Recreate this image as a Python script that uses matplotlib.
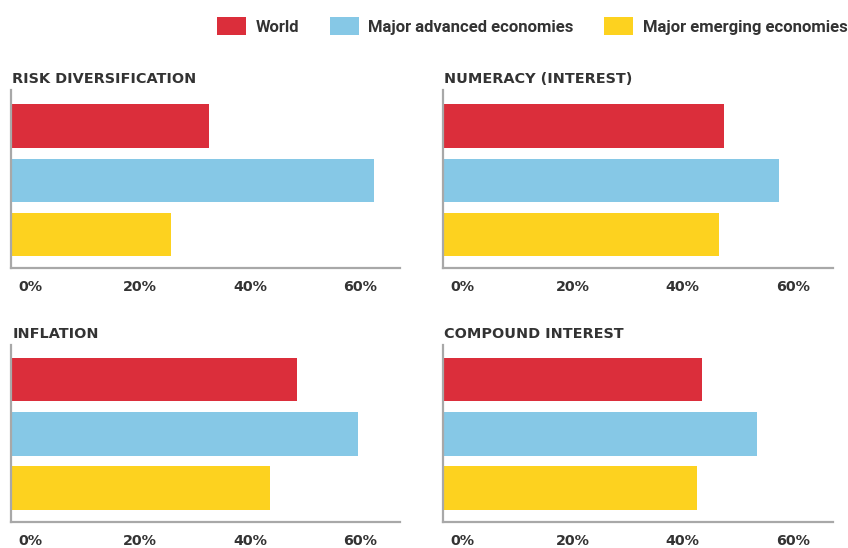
import matplotlib
matplotlib.use("Agg")
import matplotlib.pyplot as plt
import matplotlib.transforms as mtransforms
from matplotlib.patches import Patch

# Share of adults answering each financial-literacy question correctly (%)
groups = ["World", "Major advanced economies", "Major emerging economies"]
topics = ["RISK DIVERSIFICATION", "NUMERACY (INTEREST)", "INFLATION", "COMPOUND INTEREST"]
risk_diversification = [36, 66, 29]
numeracy_interest = [51, 61, 50]
inflation = [52, 63, 47]
compound_interest = [47, 57, 46]
tick_values = [0, 20, 40, 60]
tick_labels = ["0%", "20%", "40%", "60%"]

colors = ["#DB2E3B", "#86C8E6", "#FDD21F"]
text_color = "#333333"
spine_color = "#A8A8A8"

W, H = 848, 548
fig = plt.figure(figsize=(W / 100, H / 100), dpi=100)
fig.patch.set_facecolor("white")

title_font = dict(family="DejaVu Sans", weight="bold", size=10.4, color=text_color)
tick_font = dict(family="DejaVu Sans", weight="bold", size=10.3, color=text_color)
legend_font = dict(family=["Roboto", "DejaVu Sans"], weight="bold", size=12)

def px_box(x0, y0, x1, y1):
    return [x0 / W, 1 - y1 / H, (x1 - x0) / W, (y1 - y0) / H]

panels = [
    (px_box(11, 90, 400, 268), topics[0], risk_diversification, (2.62, -0.667)),
    (px_box(443, 90, 833, 268), topics[1], numeracy_interest, (2.62, -0.667)),
    (px_box(11, 345, 400, 522), topics[2], inflation, (2.62, -0.63)),
    (px_box(443, 345, 833, 522), topics[3], compound_interest, (2.62, -0.63)),
]

# horizontal nudge (points) of each tick label to the right of its tick
label_nudge = [5, 1.5, 1.5, 1.5]

for box, title, values, ylim in panels:
    ax = fig.add_axes(box)
    ax.barh(range(len(groups)), values, height=0.8, color=colors, left=0)
    ax.set_xlim(0, 70.7)
    ax.set_ylim(*ylim)
    ax.set_yticks([])
    ax.set_xticks(tick_values)
    ax.set_xticklabels([])
    ax.tick_params(axis="x", length=0)
    # tick labels start just right of their tick, below the axis line
    xform = mtransforms.blended_transform_factory(ax.transData, ax.transAxes)
    for value, text, dx in zip(tick_values, tick_labels, label_nudge):
        ax.annotate(text, xy=(value, 0), xycoords=xform, xytext=(dx, -16.3),
                    textcoords="offset points", ha="left", va="baseline", **tick_font)
    for side in ("top", "right"):
        ax.spines[side].set_visible(False)
    for side in ("left", "bottom"):
        ax.spines[side].set_color(spine_color)
        ax.spines[side].set_linewidth(1.6)
    # panel heading sits just above the axis top
    ax.annotate(title, xy=(0, 1), xycoords="axes fraction", xytext=(1, 3),
                textcoords="offset points", ha="left", va="bottom", **title_font)

# Legend row across the top
handles = [Patch(facecolor=c, edgecolor="none") for c in colors]
fig.legend(handles, groups, loc="upper left", bbox_to_anchor=(217 / W, 1 - 17 / H),
           ncol=3, frameon=False, prop=legend_font, handlelength=1.74, handleheight=1.3,
           handletextpad=0.6, columnspacing=1.8, borderpad=0, borderaxespad=0,
           labelcolor=text_color)

fig.savefig("out.png", dpi=100, facecolor="white")
